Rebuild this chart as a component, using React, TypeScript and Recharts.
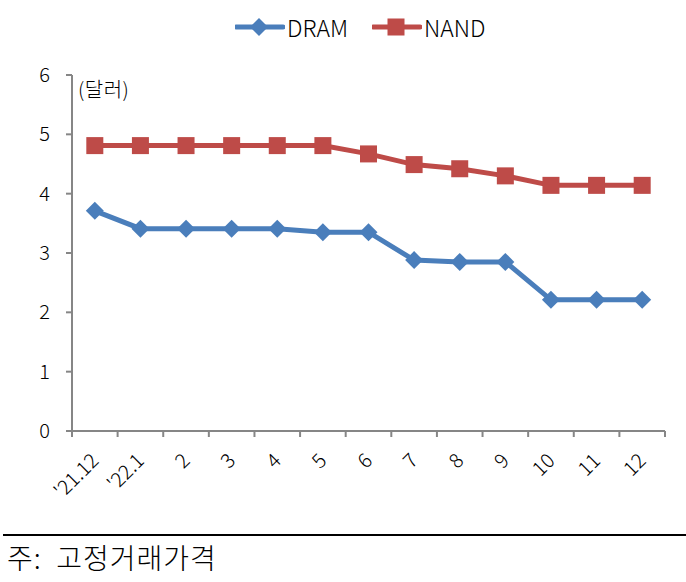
import { LineChart, Line, XAxis, YAxis } from 'recharts';

const months = ["'21.12", "'22.1", '2', '3', '4', '5', '6', '7', '8', '9', '10', '11', '12'];
const dram = [3.71, 3.41, 3.41, 3.41, 3.41, 3.35, 3.35, 2.88, 2.85, 2.85, 2.21, 2.21, 2.21];
const nand = [4.81, 4.81, 4.81, 4.81, 4.81, 4.81, 4.67, 4.49, 4.42, 4.30, 4.14, 4.14, 4.14];
const yTicks = [0, 1, 2, 3, 4, 5, 6];

const BLUE = '#4A7EBB';
const RED = '#BE4B48';
const AXIS = '#868686';
const FONT = '"Noto Sans CJK KR", "Noto Sans", sans-serif';
const WEIGHT = 300;

const PLOT_W = 593;
const BAND = PLOT_W / months.length;

const data = months.map((m, i) => ({ x: i + 0.5, month: m, dram: dram[i], nand: nand[i] }));
const xTicks = months.map((_, i) => i).concat(months.length);

const Diamond = (props: any) => {
  const { cx, cy } = props;
  if (cx == null || cy == null) return null;
  const r = 9;
  return <polygon points={`${cx},${cy - r} ${cx + r},${cy} ${cx},${cy + r} ${cx - r},${cy}`} fill={BLUE} />;
};

const Square = (props: any) => {
  const { cx, cy } = props;
  if (cx == null || cy == null) return null;
  return <rect x={cx - 8.5} y={cy - 8.5} width={17} height={17} fill={RED} />;
};

const XTick = (props: any) => {
  const { x, y, payload } = props;
  const label = months[payload.value];
  if (label === undefined) return null;
  const tx = x + BAND / 2 + 5;
  const ty = y + 23;
  return (
    <text
      x={tx}
      y={ty}
      transform={`rotate(-45 ${tx} ${ty})`}
      textAnchor="end"
      fontSize={20}
      fontWeight={WEIGHT}
      fontFamily={FONT}
      fill="#000"
    >
      {label}
    </text>
  );
};

function LegendItem({ color, label, square, left }: { color: string; label: string; square?: boolean; left: number }) {
  return (
    <div style={{ position: 'absolute', left, top: 12, display: 'flex', alignItems: 'center' }}>
      <svg width={50} height={20}>
        <line x1={1} y1={10} x2={48} y2={10} stroke={color} strokeWidth={5} strokeLinecap="round" />
        {square ? (
          <rect x={15.5} y={1.5} width={17} height={17} fill={color} />
        ) : (
          <polygon points="24,1 33,10 24,19 15,10" fill={color} />
        )}
      </svg>
      <span style={{ marginLeft: 2 }}>{label}</span>
    </div>
  );
}

export default function App() {
  return (
    <div style={{ position: 'absolute', left: 0, top: 0, width: 686, height: 582, background: '#fff', fontFamily: FONT, fontWeight: WEIGHT }}>
      <div style={{ fontSize: 23, color: '#000', lineHeight: '30px' }}>
        <LegendItem color={BLUE} label="DRAM" left={235} />
        <LegendItem color={RED} label="NAND" square left={372} />
      </div>
      <div style={{ position: 'absolute', left: 78, top: 77, fontSize: 20, color: '#000', lineHeight: '24px', letterSpacing: 0.5 }}>(달러)</div>
      <div style={{ position: 'absolute', left: 0, top: 0 }}>
        <LineChart width={686} height={535} data={data} margin={{ top: 75, right: 21, left: 0, bottom: 0 }}>
          <XAxis
            dataKey="x"
            type="number"
            domain={[0, months.length]}
            ticks={xTicks}
            interval={0}
            height={104}
            axisLine={{ stroke: AXIS, strokeWidth: 2 }}
            tickLine={{ stroke: AXIS, strokeWidth: 2 }}
            tickSize={6}
            tick={<XTick />}
          />
          <YAxis
            domain={[0, 6]}
            ticks={yTicks}
            width={72}
            axisLine={{ stroke: AXIS, strokeWidth: 2 }}
            tickLine={{ stroke: AXIS, strokeWidth: 2 }}
            tickSize={6}
            tickMargin={16}
            tick={{ fill: '#000', fontSize: 20, fontFamily: FONT, fontWeight: WEIGHT }}
          />
          <Line dataKey="dram" stroke={BLUE} strokeWidth={5} dot={<Diamond />} activeDot={false} isAnimationActive={false} />
          <Line dataKey="nand" stroke={RED} strokeWidth={5} dot={<Square />} activeDot={false} isAnimationActive={false} />
        </LineChart>
      </div>
      <div style={{ position: 'absolute', left: 3, top: 534, width: 683, height: 0, borderTop: '2px solid #000' }} />
      <div style={{ position: 'absolute', left: 7, top: 541, fontSize: 28, color: '#000', lineHeight: '32px', whiteSpace: 'pre', letterSpacing: 1 }}>주:  고정거래가격</div>
    </div>
  );
}
